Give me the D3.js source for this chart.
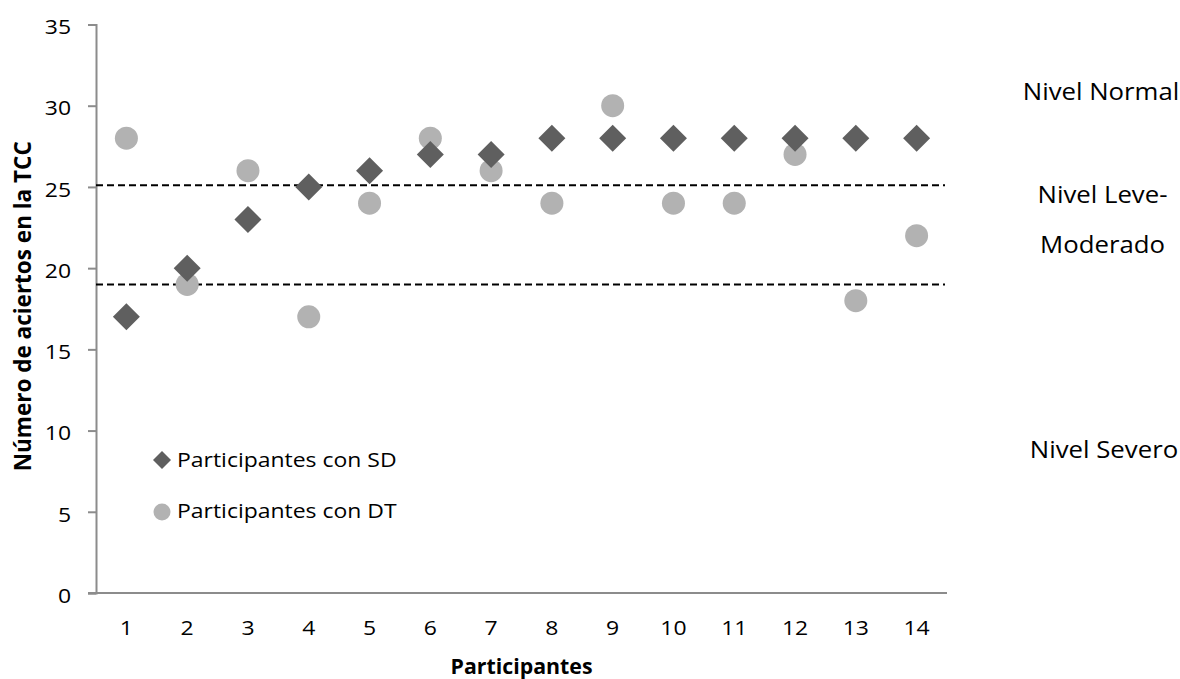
<!DOCTYPE html>
<html>
<head>
<meta charset="utf-8">
<script src="https://cdn.jsdelivr.net/npm/d3@7"></script>
<style>
  html, body { margin: 0; padding: 0; background: #fff; }
  text { font-family: "Open Sans", sans-serif; }
</style>
</head>
<body>
<svg id="chart" width="1180" height="679"></svg>
<script>
const participants = [1,2,3,4,5,6,7,8,9,10,11,12,13,14];
const sdValues = [17,20,23,25,26,27,27,28,28,28,28,28,28,28];
const dtValues = [28,19,26,17,24,28,26,24,30,24,24,27,18,22];
const yTicks = [0,5,10,15,20,25,30,35];
const cutoffs = [25.1, 19];
const levelLabels = [
  { lines: ["Nivel Normal"], y: 30.33 },
  { lines: ["Nivel Leve-", "Moderado"], y: 24.03 },
  { lines: ["Nivel Severo"], y: 8.32 }
];
const seriesNames = ["Participantes con SD", "Participantes con DT"];
const yTitle = "Número de aciertos en la TCC";
const xTitle = "Participantes";

(function () {
const svg = d3.select("#chart");
const mLeft = 96, mRight = 947, mTop = 24.5, mBottom = 593;
const SX = 1.12;

const x = d3.scaleBand().domain(participants).range([mLeft, mRight]).padding(0);
const y = d3.scaleLinear().domain([0, 35]).range([mBottom, mTop]);
const cx = d => x(d) + x.bandwidth() / 2;

const axisColor = "#8c8c8c";
const font = "'Open Sans', sans-serif";

// Y axis
const yAxis = svg.append("g").attr("transform", `translate(${mLeft},0)`)
  .call(d3.axisLeft(y).tickValues(yTicks).tickSize(8).tickPadding(17));
yAxis.select(".domain").attr("stroke", axisColor).attr("stroke-width", 2);
yAxis.selectAll(".tick line").attr("stroke", axisColor).attr("stroke-width", 2);
yAxis.selectAll(".tick text").attr("font-size", 20.5).attr("fill", "#000")
  .style("font-family", font)
  .attr("x", 0).attr("dy", "0.45em")
  .attr("transform", `translate(-25,0) scale(${SX},1)`);

// X axis
const xAxis = svg.append("g").attr("transform", `translate(0,${mBottom})`)
  .call(d3.axisBottom(x).tickSize(0).tickPadding(25).tickSizeOuter(0));
xAxis.select(".domain").attr("stroke", axisColor).attr("stroke-width", 2)
  .attr("d", `M${mLeft - 8},0H${mRight}`);
xAxis.selectAll(".tick text").attr("font-size", 20.5).attr("fill", "#000")
  .style("font-family", font)
  .attr("y", 0).attr("dy", 0)
  .attr("transform", `translate(0,42) scale(${SX},1)`);

// Cutoff dashed lines
svg.selectAll("line.cut").data(cutoffs).join("line")
  .attr("class", "cut")
  .attr("x1", mLeft).attr("x2", 945)
  .attr("y1", d => y(d)).attr("y2", d => y(d))
  .attr("stroke", "#000").attr("stroke-width", 2)
  .attr("stroke-dasharray", "7,4");

// DT circles
svg.selectAll("circle.dt").data(participants).join("circle")
  .attr("class", "dt")
  .attr("cx", d => cx(d)).attr("cy", (d, i) => y(dtValues[i]))
  .attr("r", 11.5).attr("fill", "#b2b2b2");

// SD diamonds
const diamond = s => `M0,${-s}L${s},0L0,${s}L${-s},0Z`;
svg.selectAll("path.sd").data(participants).join("path")
  .attr("class", "sd")
  .attr("transform", (d, i) => `translate(${cx(d)},${y(sdValues[i])})`)
  .attr("d", diamond(13.5)).attr("fill", "#5f5f5f");

// Legend
const lg = svg.append("g");
lg.append("path").attr("transform", "translate(162,460)").attr("d", diamond(9)).attr("fill", "#5f5f5f");
lg.append("circle").attr("cx", 162).attr("cy", 512).attr("r", 8.5).attr("fill", "#b2b2b2");
lg.selectAll("text").data(seriesNames).join("text")
  .attr("transform", (d, i) => `translate(177,${467 + i * 51}) scale(${SX},1)`)
  .attr("font-size", 20.5).attr("fill", "#000").text(d => d);

// Level labels
levelLabels.forEach((l, k) => {
  l.lines.forEach((line, i) => {
    svg.append("text").attr("text-anchor", "middle").attr("font-size", 23)
      .attr("fill", "#000")
      .attr("transform", `translate(${1101 + k * 1.5},${y(l.y) + i * 50}) scale(${SX},1)`)
      .text(line);
  });
});

// Axis titles
svg.append("text").attr("transform", `translate(31,${(mTop + mBottom) / 2 - 2.5}) rotate(-90)`)
  .attr("text-anchor", "middle").attr("font-size", 22.5).attr("font-weight", "bold")
  .attr("fill", "#000").text(yTitle);
svg.append("text").attr("transform", `translate(${(mLeft + mRight) / 2},674) scale(1.04,1)`)
  .attr("text-anchor", "middle").attr("font-size", 20.5).attr("font-weight", "bold")
  .attr("fill", "#000").text(xTitle);
})();
</script>
</body>
</html>
